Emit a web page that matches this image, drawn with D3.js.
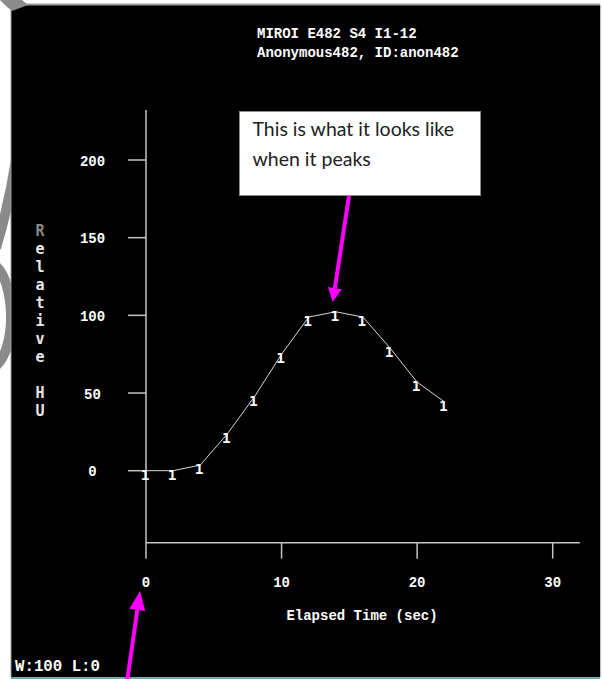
<!DOCTYPE html>
<html>
<head>
<meta charset="utf-8">
<script src="https://cdn.jsdelivr.net/npm/d3@7"></script>
<style>
  html, body { margin: 0; padding: 0; background: #fff; }
  svg { display: block; }
</style>
</head>
<body>
<svg id="chart" width="602" height="679"></svg>
<script>
// ---- data ----
const times  = [0, 2, 4, 6, 8, 10, 12, 14, 16, 18, 20, 22];
const values = [0, 0, 3.6, 23.7, 47.6, 75, 98.9, 102.3, 98.9, 79, 57, 44.4];
const xTicks = [0, 10, 20, 30];
const yTicks = [0, 50, 100, 150, 200];
const headerLines = ["MIROI E482 S4 I1-12", "Anonymous482, ID:anon482"];
const yLabelChars = ["R", "e", "l", "a", "t", "i", "v", "e", "", "H", "U"];
const xLabel = "Elapsed Time (sec)";
const footer = "W:100 L:0";
const noteLines = ["This is what it looks like", "when it peaks"];

const svg = d3.select("#chart");
const x = d3.scaleLinear().domain([0, 30]).range([146, 552.7]);
const y = d3.scaleLinear().domain([0, 200]).range([470.7, 160]);
const xExtent = [0, 32];
const yExtent = [-46.3, 232.2];

const mono = "'Liberation Mono', 'DejaVu Sans Mono', monospace";
const axisColor = "#c4c4c4";
const CW = 8.4; // character advance of the terminal font

function termText(sel, size) {
  return sel.attr("fill", "#fff").attr("font-family", mono).attr("font-size", size || 15)
    .attr("font-weight", "bold")
    .attr("textLength", d => String(d).length * CW).attr("lengthAdjust", "spacingAndGlyphs")
    .text(d => d);
}

// grey artifact on the left edge (under the black panel)
const art = svg.append("g").attr("fill", "none").attr("stroke", "#8a8a8a").attr("stroke-width", 10);
art.append("path").attr("d", "M16,160 C12,185 6,215 -4,248");
art.append("path").attr("d", "M-4,266 C14,282 18,345 -4,366");

// page frame
svg.append("rect").attr("x", 11).attr("y", 5).attr("width", 589).attr("height", 672).attr("fill", "#000");
svg.append("line").attr("x1", 24).attr("x2", 600).attr("y1", 4.5).attr("y2", 4.5).attr("stroke", "#9a9a9a").attr("stroke-width", 2);
svg.append("line").attr("x1", 11).attr("x2", 11).attr("y1", 5).attr("y2", 677).attr("stroke", "#9a9a9a").attr("stroke-width", 1);
svg.append("line").attr("x1", 600.5).attr("x2", 600.5).attr("y1", 5).attr("y2", 677).attr("stroke", "#bbb").attr("stroke-width", 1);
svg.append("line").attr("x1", 11).attr("x2", 600).attr("y1", 678).attr("y2", 678).attr("stroke", "#3e8f8f").attr("stroke-width", 1.5);
svg.append("polygon").attr("points", "0,0 22,0 28,5 12,11 6,6").attr("fill", "#8c8c8c");

// header
termText(svg.append("g").selectAll("text").data(headerLines).join("text")
  .attr("x", 257).attr("y", (d, i) => 38 + i * 19));

// axes
const ax = svg.append("g").attr("stroke", axisColor).attr("stroke-width", 1.5);
ax.append("line").attr("x1", x(0)).attr("x2", x(0)).attr("y1", y(yExtent[1])).attr("y2", y(yExtent[0]));
ax.append("line").attr("x1", x(0)).attr("x2", x(xExtent[1])).attr("y1", y(yExtent[0])).attr("y2", y(yExtent[0]));
ax.selectAll(".yt").data(yTicks).join("line")
  .attr("x1", x(0) - 18).attr("x2", x(0)).attr("y1", d => y(d)).attr("y2", d => y(d));
ax.selectAll(".xt").data(xTicks).join("line")
  .attr("x1", d => x(d)).attr("x2", d => x(d)).attr("y1", y(yExtent[0])).attr("y2", y(yExtent[0]) + 16);

// tick labels
termText(svg.append("g").selectAll("text").data(yTicks).join("text")
  .attr("x", 92.5).attr("y", d => y(d) + 5.5).attr("text-anchor", "middle"));
termText(svg.append("g").selectAll("text").data(xTicks).join("text")
  .attr("x", d => x(d)).attr("y", 586.5).attr("text-anchor", "middle"));

// axis labels
termText(svg.append("g").selectAll("text").data([xLabel]).join("text")
  .attr("x", 362).attr("y", 619.5).attr("text-anchor", "middle"));
svg.append("g").selectAll("text").data(yLabelChars).join("text")
  .attr("x", 40).attr("y", (d, i) => 235.5 + i * 18).attr("text-anchor", "middle")
  .attr("fill", (d, i) => i === 0 ? "#8a8a8a" : "#e8e8e8")
  .attr("font-family", "'DejaVu Sans Mono', monospace").attr("font-size", 15).attr("font-weight", "bold")
  .text(d => d);

// footer
svg.append("g").selectAll("text").data([footer]).join("text")
  .attr("x", 15).attr("y", 670.5).attr("fill", "#fff")
  .attr("font-family", mono).attr("font-size", 16).attr("font-weight", "bold")
  .attr("textLength", 85).attr("lengthAdjust", "spacingAndGlyphs").text(d => d);

// data line
const pts = times.map((t, i) => [t, values[i]]);
svg.append("path").datum(pts)
  .attr("d", d3.line().x(d => x(d[0])).y(d => y(d[1])))
  .attr("fill", "none").attr("stroke", "#d8d8d8").attr("stroke-width", 1);
svg.append("g").selectAll("text").data(pts).join("text")
  .attr("x", d => x(d[0]) - 1).attr("y", d => y(d[1]) + 9).attr("text-anchor", "middle")
  .attr("fill", "#fff").attr("font-family", "'DejaVu Sans Mono', monospace").attr("font-size", 14.5).attr("font-weight", "bold")
  .text("1");

// annotation box
svg.append("rect").attr("x", 239.5).attr("y", 111.5).attr("width", 241).attr("height", 84)
  .attr("fill", "#fff").attr("stroke", "#8c8c8c").attr("stroke-width", 1);
svg.append("g").selectAll("text").data(noteLines).join("text")
  .attr("x", 252.5).attr("y", (d, i) => 136 + i * 30)
  .attr("fill", "#222").attr("font-family", "Lato, 'Open Sans', sans-serif").attr("font-size", 19.5)
  .text(d => d);

// arrows
function arrow(x0, y0, x1, y1, headLen, headW) {
  const ang = Math.atan2(y1 - y0, x1 - x0);
  const bx = x1 - headLen * Math.cos(ang), by = y1 - headLen * Math.sin(ang);
  const px = -Math.sin(ang) * headW / 2, py = Math.cos(ang) * headW / 2;
  svg.append("line").attr("x1", x0).attr("y1", y0).attr("x2", bx).attr("y2", by)
    .attr("stroke", "#ff00ff").attr("stroke-width", 4);
  svg.append("polygon")
    .attr("points", `${x1},${y1} ${bx + px},${by + py} ${bx - px},${by - py}`)
    .attr("fill", "#ff00ff");
}
arrow(349, 196, 332.7, 302, 14, 14);
arrow(127, 682, 140, 591, 19, 16);
</script>
</body>
</html>
